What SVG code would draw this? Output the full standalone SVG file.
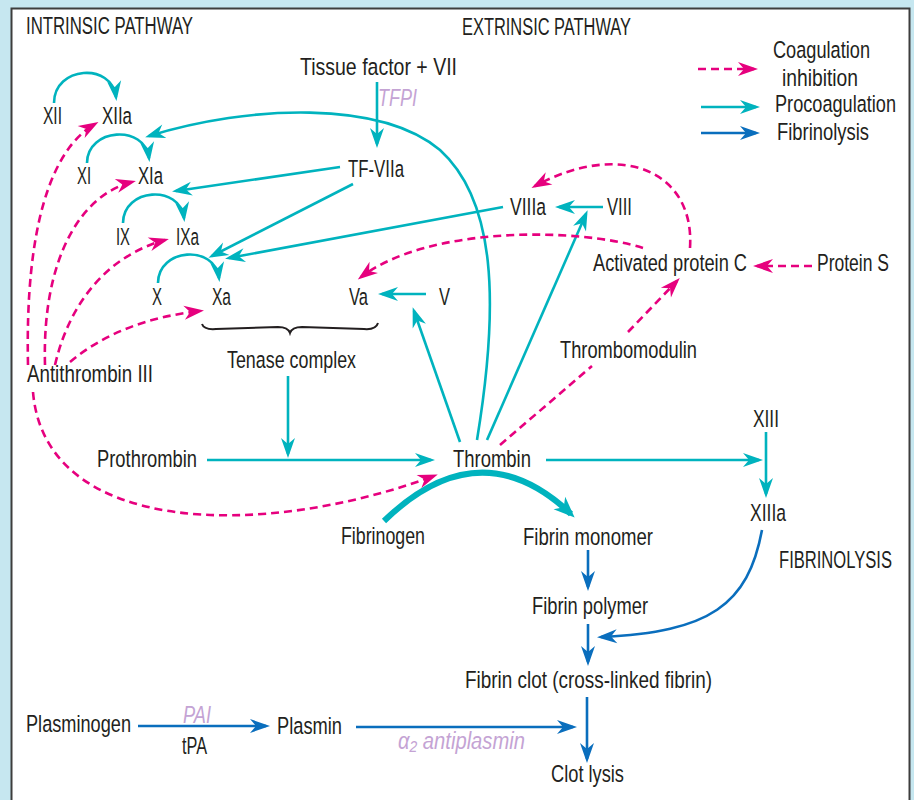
<svg xmlns="http://www.w3.org/2000/svg" width="914" height="800" viewBox="0 0 914 800">
<style>
.t{font-family:"Liberation Sans Narrow","Liberation Sans",Arial,sans-serif;font-size:24.5px;fill:#231f20}
.i{font-family:"Liberation Sans Narrow","Liberation Sans",Arial,sans-serif;font-size:24.5px;font-style:italic;fill:#c4a3d4}
.c{fill:none;stroke:#00b3be;stroke-width:2.6;marker-end:url(#mc)}
.ct{fill:none;stroke:#00b3be;stroke-width:6;marker-end:url(#mct)}
.p{fill:none;stroke:#e6007e;stroke-width:2.6;stroke-dasharray:8 5;marker-end:url(#mp)}
.b{fill:none;stroke:#0a6ebd;stroke-width:2.6;marker-end:url(#mb)}
</style>
<defs>
<marker id="mc" markerUnits="userSpaceOnUse" markerWidth="26" markerHeight="18" viewBox="-20 -9 26 18" refX="0" refY="0" orient="auto"><path d="M4,0 L-16,-7 L-10,0 L-16,7 Z" fill="#00b3be"/></marker>
<marker id="mct" markerUnits="userSpaceOnUse" markerWidth="30" markerHeight="22" viewBox="-22 -11 30 22" refX="0" refY="0" orient="auto"><path d="M5,0 L-16,-8.5 L-10,0 L-16,8.5 Z" fill="#00b3be"/></marker>
<marker id="mp" markerUnits="userSpaceOnUse" markerWidth="26" markerHeight="18" viewBox="-20 -9 26 18" refX="0" refY="0" orient="auto"><path d="M4,0 L-16,-7 L-10,0 L-16,7 Z" fill="#e6007e"/></marker>
<marker id="mb" markerUnits="userSpaceOnUse" markerWidth="26" markerHeight="18" viewBox="-20 -9 26 18" refX="0" refY="0" orient="auto"><path d="M4,0 L-16,-7 L-10,0 L-16,7 Z" fill="#0a6ebd"/></marker>
</defs>
<rect x="0" y="0" width="914" height="800" fill="#c6e7f0"/>
<rect x="11.5" y="8.5" width="898" height="800" fill="#ffffff" stroke="#3d3d3d" stroke-width="2"/>

<g id="headers">
<text class="t" x="26" y="34" textLength="167" lengthAdjust="spacingAndGlyphs">INTRINSIC PATHWAY</text>
<text class="t" x="462" y="35" textLength="169" lengthAdjust="spacingAndGlyphs">EXTRINSIC PATHWAY</text>
<text class="t" x="779" y="568" textLength="113" lengthAdjust="spacingAndGlyphs">FIBRINOLYSIS</text>
</g>

<g id="legend">
<path class="p" d="M698 69 L754 69"/>
<path class="c" d="M701 107 L756 107"/>
<path class="b" d="M701 133 L756 133"/>
<text class="t" x="773" y="58" textLength="97" lengthAdjust="spacingAndGlyphs">Coagulation</text>
<text class="t" x="782" y="86" textLength="76" lengthAdjust="spacingAndGlyphs">inhibition</text>
<text class="t" x="775" y="112" textLength="121" lengthAdjust="spacingAndGlyphs">Procoagulation</text>
<text class="t" x="777" y="140" textLength="92" lengthAdjust="spacingAndGlyphs">Fibrinolysis</text>
</g>

<g id="connectors">
<path class="c" d="M54 103 C54 66 112 62 116 97"/>
<path class="c" d="M87 163 C87 128 145 124 149 158"/>
<path class="c" d="M123 223 C123 188 180 184 184 218"/>
<path class="c" d="M158 283 C158 248 215 244 219 278"/>
<path class="c" d="M377 82 L377 144"/>
<path class="c" d="M340 167 L176 191"/>
<path class="c" d="M353 184 L212 256"/>
<path class="c" d="M503 207 L229 258"/>
<path class="c" d="M426 294 L382 294"/>
<path class="c" d="M603 207 L559 207"/>
<path class="c" d="M460 442 L414 311"/>
<path class="c" d="M487 440 L586 214"/>
<path class="c" d="M477 440 C500 300 495 200 440 150 C380 100 250 105 149 136"/>
<path class="c" d="M207 460 L431 460"/>
<path class="c" d="M288 376 L288 454"/>
<path class="c" d="M546 460 L759 460"/>
<path class="c" d="M766 432 L766 494"/>
<path class="ct" d="M384 521 Q480 428 571 514"/>
<path class="p" d="M28 365 C25 230 50 150 95 124"/>
<path class="p" d="M45 365 C42 260 80 195 132 182"/>
<path class="p" d="M55 365 C70 300 110 255 165 240"/>
<path class="p" d="M70 362 Q120 320 200 311"/>
<path class="p" d="M33 392 C45 535 260 540 434 476"/>
<path class="p" d="M690 248 C695 170 620 140 535 186"/>
<path class="p" d="M643 248 C580 228 430 225 361 277"/>
<path class="p" d="M812 266 L757 266"/>
<path class="p" d="M500 445 L592 366 M628 332 L677 281"/>
<path class="b" d="M138 726 L266 726"/>
<path class="b" d="M356 727 L573 727"/>
<path class="b" d="M587 697 L587 759"/>
<path class="b" d="M588 624 L588 662"/>
<path class="b" d="M588 550 L588 587"/>
<path class="b" d="M762 530 C748 605 710 632 601 637"/>
<path d="M202 324 Q204 330 216 329 L278 327 Q288 327 290 333 Q292 327 302 327 L364 329 Q376 330 378 323" fill="none" stroke="#231f20" stroke-width="2"/>
</g>

<g id="n-tissue"><text class="t" x="300" y="75" textLength="157" lengthAdjust="spacingAndGlyphs">Tissue factor + VII</text></g>
<g id="n-tfpi"><text class="i" x="378" y="106" textLength="39" lengthAdjust="spacingAndGlyphs">TFPI</text></g>
<g id="n-xii"><text class="t" x="43" y="124" textLength="19" lengthAdjust="spacingAndGlyphs">XII</text></g>
<g id="n-xiia"><text class="t" x="102" y="124" textLength="30" lengthAdjust="spacingAndGlyphs">XIIa</text></g>
<g id="n-xi"><text class="t" x="77" y="184" textLength="14" lengthAdjust="spacingAndGlyphs">XI</text></g>
<g id="n-xia"><text class="t" x="138" y="184" textLength="25" lengthAdjust="spacingAndGlyphs">XIa</text></g>
<g id="n-ix"><text class="t" x="116" y="245" textLength="14" lengthAdjust="spacingAndGlyphs">IX</text></g>
<g id="n-ixa"><text class="t" x="176" y="245" textLength="23" lengthAdjust="spacingAndGlyphs">IXa</text></g>
<g id="n-x"><text class="t" x="152" y="305" textLength="10" lengthAdjust="spacingAndGlyphs">X</text></g>
<g id="n-xa"><text class="t" x="212" y="305" textLength="19" lengthAdjust="spacingAndGlyphs">Xa</text></g>
<g id="n-va"><text class="t" x="349" y="305" textLength="19" lengthAdjust="spacingAndGlyphs">Va</text></g>
<g id="n-v"><text class="t" x="439" y="305" textLength="11" lengthAdjust="spacingAndGlyphs">V</text></g>
<g id="n-tfviia"><text class="t" x="348" y="177" textLength="56" lengthAdjust="spacingAndGlyphs">TF-VIIa</text></g>
<g id="n-viiia"><text class="t" x="510" y="215" textLength="36" lengthAdjust="spacingAndGlyphs">VIIIa</text></g>
<g id="n-viii"><text class="t" x="607" y="215" textLength="25" lengthAdjust="spacingAndGlyphs">VIII</text></g>
<g id="n-apc"><text class="t" x="593" y="271" textLength="154" lengthAdjust="spacingAndGlyphs">Activated protein C</text></g>
<g id="n-proteins"><text class="t" x="817" y="271" textLength="72" lengthAdjust="spacingAndGlyphs">Protein S</text></g>
<g id="n-antithrombin"><text class="t" x="27" y="382" textLength="126" lengthAdjust="spacingAndGlyphs">Antithrombin III</text></g>
<g id="n-tenase"><text class="t" x="227" y="368" textLength="129" lengthAdjust="spacingAndGlyphs">Tenase complex</text></g>
<g id="n-thrombomodulin"><text class="t" x="560" y="358" textLength="137" lengthAdjust="spacingAndGlyphs">Thrombomodulin</text></g>
<g id="n-prothrombin"><text class="t" x="97" y="467" textLength="100" lengthAdjust="spacingAndGlyphs">Prothrombin</text></g>
<g id="n-thrombin"><text class="t" x="453" y="467" textLength="78" lengthAdjust="spacingAndGlyphs">Thrombin</text></g>
<g id="n-xiii"><text class="t" x="753" y="427" textLength="26" lengthAdjust="spacingAndGlyphs">XIII</text></g>
<g id="n-xiiia"><text class="t" x="750" y="521" textLength="36" lengthAdjust="spacingAndGlyphs">XIIIa</text></g>
<g id="n-fibrinogen"><text class="t" x="341" y="544" textLength="84" lengthAdjust="spacingAndGlyphs">Fibrinogen</text></g>
<g id="n-monomer"><text class="t" x="523" y="545" textLength="130" lengthAdjust="spacingAndGlyphs">Fibrin monomer</text></g>
<g id="n-polymer"><text class="t" x="532" y="614" textLength="116" lengthAdjust="spacingAndGlyphs">Fibrin polymer</text></g>
<g id="n-clot"><text class="t" x="465" y="688" textLength="247" lengthAdjust="spacingAndGlyphs">Fibrin clot (cross-linked fibrin)</text></g>
<g id="n-plasminogen"><text class="t" x="26" y="732" textLength="105" lengthAdjust="spacingAndGlyphs">Plasminogen</text></g>
<g id="n-pai"><text class="i" x="183" y="723" textLength="28" lengthAdjust="spacingAndGlyphs">PAI</text></g>
<g id="n-tpa"><text class="t" x="182" y="754" textLength="25" lengthAdjust="spacingAndGlyphs">tPA</text></g>
<g id="n-plasmin"><text class="t" x="277" y="734" textLength="65" lengthAdjust="spacingAndGlyphs">Plasmin</text></g>
<g id="n-antiplasmin"><text class="i" x="398" y="749" textLength="127" lengthAdjust="spacingAndGlyphs">α₂ antiplasmin</text></g>
<g id="n-lysis"><text class="t" x="551" y="782" textLength="73" lengthAdjust="spacingAndGlyphs">Clot lysis</text></g>
</svg>
